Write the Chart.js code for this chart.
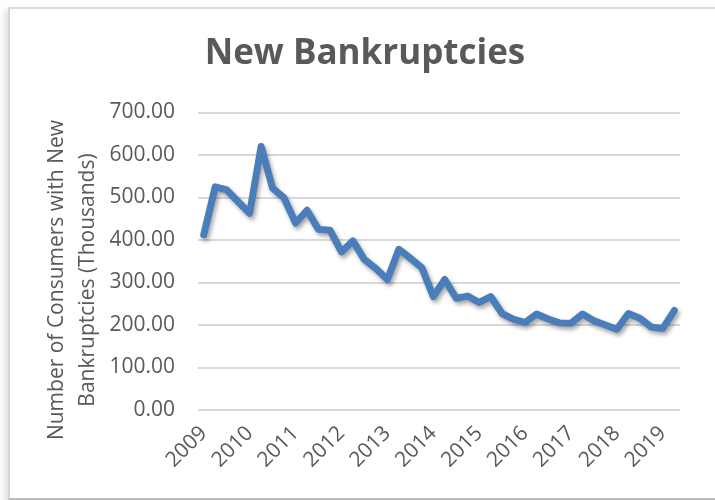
<!DOCTYPE html>
<html lang="en">
<head>
  <meta charset="UTF-8" />
  <title>New Bankruptcies</title>
  <script src="https://cdn.jsdelivr.net/npm/chart.js"></script>
  <style>
    body { margin: 0; width: 715px; height: 500px; overflow: hidden; background: #fff; position: relative; }
    .frame {
      position: absolute; left: 8px; top: 7px; width: 720px; height: 489px;
      border-top: 2px solid #dcdcdc; border-left: 2px solid #d4d4d4; border-bottom: 2px solid #bcbcbc;
      box-shadow: -4px 3px 6px rgba(0,0,0,0.12);
      background: #fff;
    }
    #chart { position: absolute; left: 0; top: 0; }
  </style>
</head>
<body>
  <div class="frame"></div>
  <canvas id="chart" width="730" height="500"></canvas>

  <script>
    // quarterly, 2009 Q1 .. 2019 Q2
    const quarters = [
      '2009 Q1','2009 Q2','2009 Q3','2009 Q4','2010 Q1','2010 Q2','2010 Q3','2010 Q4',
      '2011 Q1','2011 Q2','2011 Q3','2011 Q4','2012 Q1','2012 Q2','2012 Q3','2012 Q4',
      '2013 Q1','2013 Q2','2013 Q3','2013 Q4','2014 Q1','2014 Q2','2014 Q3','2014 Q4',
      '2015 Q1','2015 Q2','2015 Q3','2015 Q4','2016 Q1','2016 Q2','2016 Q3','2016 Q4',
      '2017 Q1','2017 Q2','2017 Q3','2017 Q4','2018 Q1','2018 Q2','2018 Q3','2018 Q4',
      '2019 Q1','2019 Q2'
    ];

    // consumers with new bankruptcies (thousands)
    const bankruptcies = [
      412, 525, 518, 490, 463, 620, 522, 499,
      440, 470, 425, 423, 372, 398, 354, 333,
      307, 378, 357, 335, 267, 307, 263, 268,
      253, 267, 227, 213, 206, 226, 214, 205,
      204, 226, 210, 200, 190, 227, 216, 195,
      192, 234
    ];

    const yTitle = ['Number of Consumers with New', 'Bankruptcies (Thousands)'];
    const textColor = '#595959';
    const font = 'Open Sans';

    // soft drop shadow under the line
    const lineShadow = {
      id: 'lineShadow',
      beforeDatasetsDraw(chart) {
        const ctx = chart.ctx;
        ctx.save();
        ctx.shadowColor = 'rgba(0,0,0,0.35)';
        ctx.shadowBlur = 4;
        ctx.shadowOffsetX = 2;
        ctx.shadowOffsetY = 3;
      },
      afterDatasetsDraw(chart) {
        chart.ctx.restore();
      }
    };

    // two-line vertical axis title
    const sideTitle = {
      id: 'sideTitle',
      afterDraw(chart) {
        const ctx = chart.ctx;
        ctx.save();
        ctx.fillStyle = textColor;
        ctx.font = '21px "' + font + '"';
        ctx.textAlign = 'center';
        ctx.textBaseline = 'middle';
        yTitle.forEach((line, i) => {
          ctx.save();
          ctx.translate(57 + i * 31, 280);
          ctx.rotate(-Math.PI / 2);
          ctx.fillText(line, 0, 0);
          ctx.restore();
        });
        ctx.restore();
      }
    };

    new Chart(document.getElementById('chart'), {
      type: 'line',
      data: {
        labels: quarters,
        datasets: [{
          label: 'New Bankruptcies',
          data: bankruptcies,
          borderColor: '#4a7ebb',
          borderWidth: 7,
          borderJoinStyle: 'round',
          borderCapStyle: 'round',
          pointRadius: 0,
          tension: 0,
          fill: false
        }]
      },
      options: {
        responsive: false,
        animation: false,
        devicePixelRatio: 1,
        layout: { padding: { left: 50, right: 50, top: 0, bottom: 0 } },
        plugins: {
          legend: { display: false },
          tooltip: { enabled: false },
          title: {
            display: true,
            text: 'New Bankruptcies',
            color: textColor,
            font: { family: font, size: 35, weight: 'bold' },
            padding: { top: 33, bottom: 37.5 }
          }
        },
        scales: {
          x: {
            offset: true,
            grid: { display: false },
            border: { display: false },
            ticks: {
              autoSkip: false,
              maxRotation: 45,
              minRotation: 45,
              color: textColor,
              font: { family: font, size: 21 },
              callback: (v, i) => i % 4 === 0 ? quarters[i].slice(0, 4) : null
            },
            afterFit: s => { s.height = 90; }
          },
          y: {
            min: 0,
            max: 700,
            grid: { color: '#d9d9d9', lineWidth: 2, drawTicks: false },
            border: { display: false },
            ticks: {
              stepSize: 100,
              padding: 23,
              color: textColor,
              font: { family: font, size: 21 },
              callback: v => v.toFixed(2)
            },
            afterFit: s => { s.width = 148; }
          }
        }
      },
      plugins: [lineShadow, sideTitle]
    });
  </script>
</body>
</html>
